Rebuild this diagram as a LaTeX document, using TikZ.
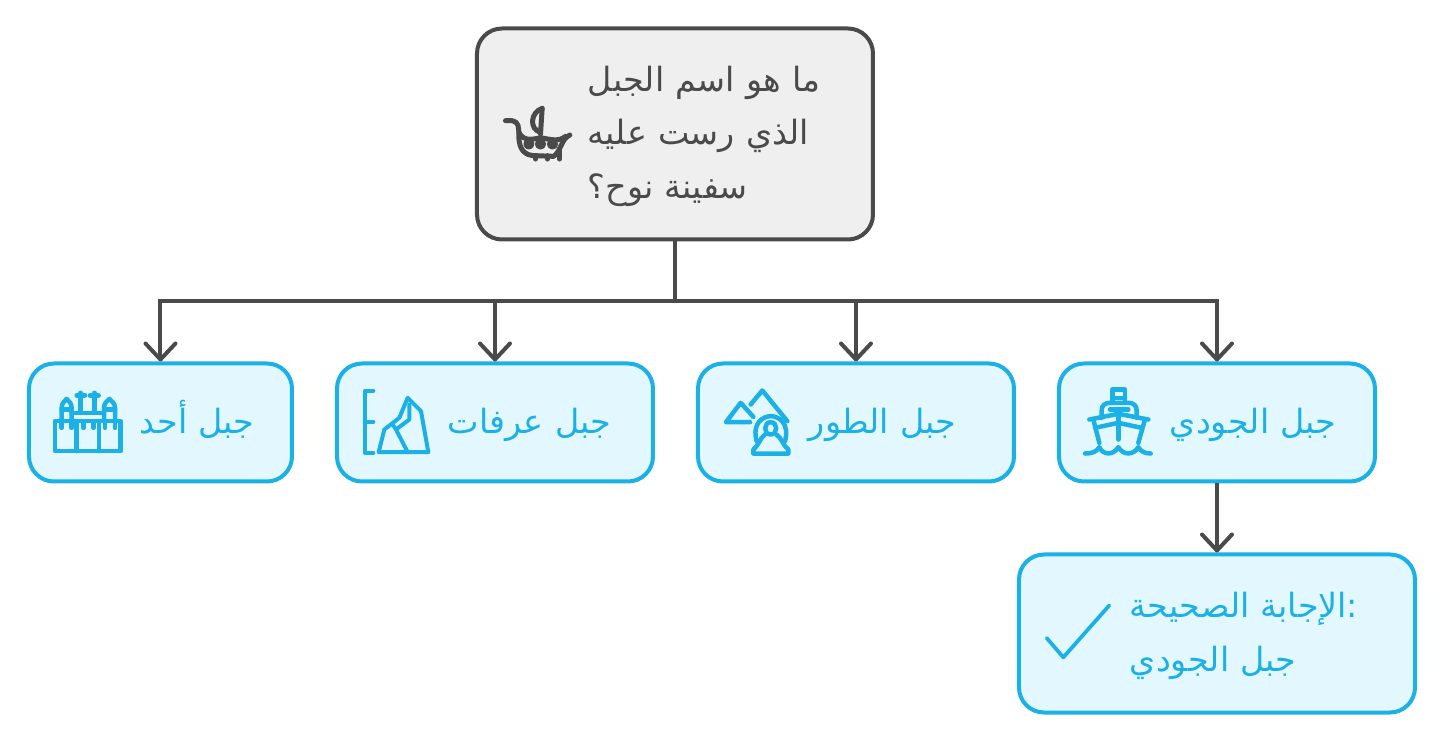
\documentclass[tikz,border=0pt]{standalone}
\usepackage{fontspec}
\newfontfamily\arabicfont[Script=Arabic]{DejaVu Sans}
\TeXXeTstate=1
\usetikzlibrary{arrows.meta,positioning}
\definecolor{inkgray}{HTML}{4A4A4A}
\definecolor{fillgray}{HTML}{EFEFEF}
\definecolor{inkblue}{HTML}{1BB1E6}
\definecolor{fillblue}{HTML}{E3F7FF}
\newcommand{\arline}[2][]{\hspace*{2.22cm}\strut\beginR #2\endR #1}
\tikzset{
  qblk/.style={draw=inkgray, fill=fillgray, text=inkgray, rounded corners=0.5cm, line width=0.08cm, text width=7.92cm, inner xsep=0pt, minimum height=4.22cm, align=left, font=\arabicfont\fontsize{19}{30.5}\selectfont},
  ablk/.style={draw=inkblue, fill=fillblue, text=inkblue, rounded corners=0.5cm, line width=0.08cm, inner xsep=0pt, minimum height=2.36cm, align=left, font=\arabicfont\fontsize{19}{30.5}\selectfont},
  arr/.style={-{Straight Barb[round, length=0.32cm, width=0.6cm, line width=0.08cm]}, line width=0.08cm, draw=inkgray},
  ico/.style={x=0.00667cm, y=-0.00667cm, line width=0.09cm, line cap=round, line join=round, draw=inkblue},
  boatpic/.pic={
    \begin{scope}[ico, draw=inkgray, line width=0.1cm]
      \draw (45,215) -- (65,215) .. controls (85,218) and (85,235) .. (85,260) .. controls (85,305) and (105,320) .. (135,320) -- (190,322) .. controls (212,305) and (212,270) .. (238,258);
      \draw (155,178) -- (150,255);
      \draw (155,178) .. controls (120,190) and (115,240) .. (150,250);
      \draw (115,285) circle (9) (150,285) circle (9) (186,285) circle (9);
      \draw (85,250) .. controls (100,280) and (130,270) .. (150,266) .. controls (175,270) and (205,280) .. (225,262);
      \draw (135,320) -- (135,330) (170,320) -- (170,330) (207,305) -- (207,330);
    \end{scope}
  },
  castlepic/.pic={
    \begin{scope}[ico]
      \draw (75,155) rectangle (272,245);
      \draw (140,155) -- (140,245) (207,155) -- (207,245);
      \draw (95,155) -- (95,115) .. controls (95,100) and (105,95) .. (110,88) .. controls (115,95) and (125,100) .. (125,115) -- (125,155);
      \draw (222,155) -- (222,115) .. controls (222,100) and (232,95) .. (238,88) .. controls (244,95) and (255,100) .. (255,115) -- (255,155);
      \draw (95,120) -- (125,120) (222,120) -- (255,120);
      \draw (125,130) -- (222,130);
      \draw (152,70) -- (152,130) (140,78) -- (165,78) (193,70) -- (193,130) (180,78) -- (206,78);
      \draw (95,155) -- (95,175) (125,155) -- (125,175) (160,155) -- (160,175) (190,155) -- (190,175) (225,155) -- (225,175) (255,155) -- (255,175);
    \end{scope}
  },
  rockpic/.pic={
    \begin{scope}[ico, line width=0.08cm]
      \draw (97,63) -- (72,63) -- (72,250) -- (97,250) (72,157) -- (97,157);
      \draw (113,248) -- (130,180) -- (175,145) -- (200,85) -- (240,125) -- (262,248) -- cycle;
      \draw (205,105) -- (205,150) -- (165,180) -- (200,248) (165,180) -- (155,165);
    \end{scope}
  },
  shrinepic/.pic={
    \begin{scope}[ico]
      \draw (150,158) -- (78,158) -- (122,100) -- (160,142);
      \draw (152,105) -- (187,63) -- (262,155);
      \draw (170,215) .. controls (155,160) and (190,140) .. (212,140) .. controls (235,140) and (270,160) .. (255,215);
      \draw (212,158) .. controls (190,158) and (190,195) .. (212,195) .. controls (234,195) and (234,158) .. (212,158);
      \draw (160,252) -- (160,240) .. controls (175,230) and (180,205) .. (195,195) (229,195) .. controls (245,205) and (250,230) .. (265,240) -- (265,252) -- (160,252);
    \end{scope}
  },
  shippic/.pic={
    \begin{scope}[ico]
      \draw (157,100) -- (157,60) -- (195,60) -- (195,100) (157,85) -- (195,85);
      \draw (125,145) -- (125,122) .. controls (125,108) and (135,100) .. (150,100) -- (205,100) .. controls (220,100) and (230,108) .. (230,122) -- (230,145);
      \draw (150,120) -- (205,120);
      \draw (88,150) -- (175,133) -- (265,150);
      \draw (105,175) -- (175,160) -- (245,175);
      \draw (175,133) -- (175,210);
      \draw (100,150) -- (118,220) (255,150) -- (235,220);
      \draw (75,252) .. controls (100,252) and (110,245) .. (118,233) .. controls (130,258) and (160,258) .. (175,233) .. controls (190,258) and (220,258) .. (235,233) .. controls (243,245) and (252,252) .. (272,252);
    \end{scope}
  },
  tickpic/.pic={
    \begin{scope}[ico, line width=0.075cm]
      \draw (80,240) -- (130,298) -- (268,142);
    \end{scope}
  },
}
\begin{document}
\begin{tikzpicture}
\useasboundingbox (-13.5,2.68) rectangle (15.38,-12.16);

\node[qblk] (question) {\arline{ما هو اسم الجبل}\\\arline{الذي رست عليه}\\\arline{سفينة نوح؟}};

\node[ablk, text width=6.32cm, below right=2.4cm and 3.64cm of question] (judi) {\arline{جبل الجودي}};
\node[ablk, text width=6.32cm, left=0.82cm of judi] (tur) {\arline{جبل الطور}};
\node[ablk, text width=6.32cm, left=0.82cm of tur] (arafat) {\arline{جبل عرفات}};
\node[ablk, text width=5.26cm, left=0.82cm of arafat] (ahad) {\arline{جبل أحد}};
\node[ablk, text width=7.92cm, minimum height=3.16cm, below=1.38cm of judi] (answer) {\arline[:]{الإجابة الصحيحة}\\\arline{جبل الجودي}};

\coordinate[below=1.2cm of question] (bus);

\draw[arr] (question.south) -- (bus) -| (ahad.north);
\draw[arr] (bus) -| (arafat.north);
\draw[arr] (bus) -| (tur.north);
\draw[arr] (bus) -| (judi.north);
\draw[arr] (judi) -- (answer);

% icons, coordinates taken from the zoomed crops
\pic at ([xshift=0.31cm, yshift=1.7cm]question.west) {boatpic};
\pic at ([xshift=0.06cm, yshift=1.06cm]ahad.west) {castlepic};
\pic at ([xshift=0.12cm, yshift=1.06cm]arafat.west) {rockpic};
\pic at ([xshift=0.08cm, yshift=1.06cm]tur.west) {shrinepic};
\pic at ([xshift=0.06cm, yshift=1.06cm]judi.west) {shippic};
\pic at ([xshift=0.06cm, yshift=1.51cm]answer.west) {tickpic};

\end{tikzpicture}
\end{document}
